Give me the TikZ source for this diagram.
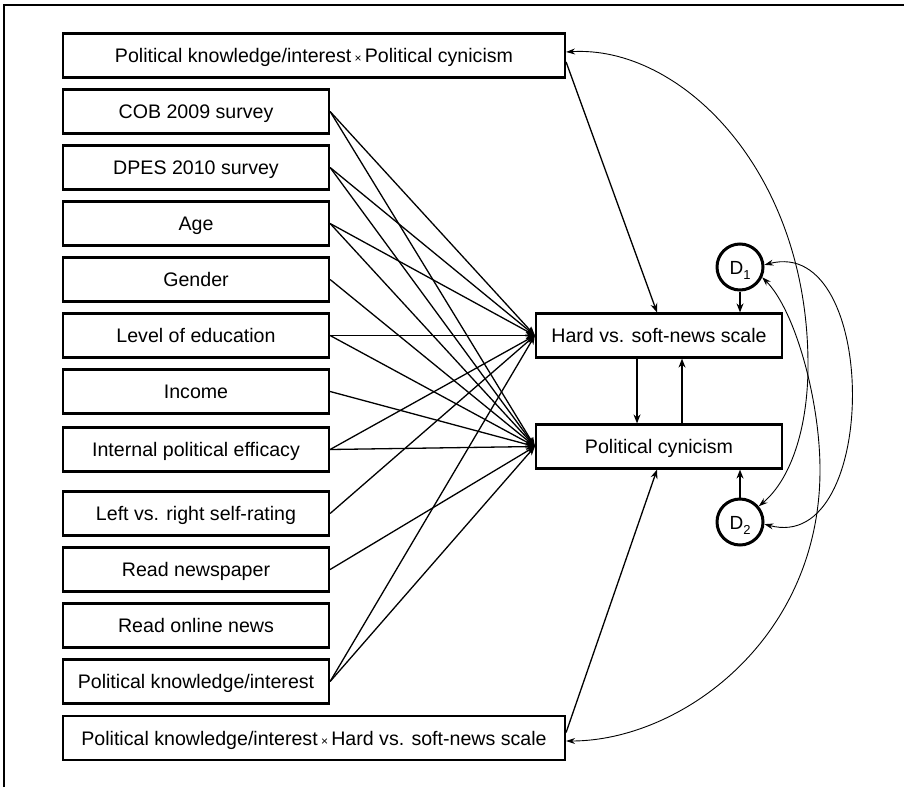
\documentclass[tikz,border=0pt]{standalone}
\usepackage{fontspec}
\setmainfont{Liberation Sans}
\usetikzlibrary{arrows.meta,calc}
\newcommand{\tms}{\,{\fontsize{12}{12}\selectfont ×}\,}
\newcommand{\dsub}[1]{D\raisebox{-5pt}{\fontsize{13}{13}\selectfont #1}}
\begin{document}
\begin{tikzpicture}[x=1pt,y=-1pt,
  box/.style={draw, line width=2.2pt, minimum height=44pt, inner sep=0pt,
    text height=16pt, text depth=2pt, font=\fontsize{19.6}{23}\selectfont},
  sbox/.style={box, minimum width=266pt},
  wbox/.style={box, minimum width=502pt},
  mbox/.style={box, minimum width=246pt},
  dcirc/.style={draw, circle, line width=3pt, minimum size=46pt, inner sep=0pt,
    text height=16pt, text depth=2pt, font=\fontsize{19}{23}\selectfont},
  arr/.style={line width=1.3pt, -{Stealth[length=9pt,width=7pt]}},
  carr/.style={line width=0.9pt, {Stealth[length=9pt,width=6pt,inset=3pt]}-{Stealth[length=9pt,width=6pt,inset=3pt]}}
]
\useasboundingbox (0,0) rectangle (904,787);
% frame
\draw[line width=1.4pt] (4,787) -- (4,5) -- (904,5);

% interaction boxes
\node[wbox] (ptop) at (314,55.5) {Political knowledge/interest\tms Political cynicism};
\node[wbox] (pbot) at (314,738) {Political knowledge/interest\tms Hard vs. soft-news scale};

% predictors
\node[sbox] (cob)    at (196,111.5) {COB 2009 survey};
\node[sbox] (dpes)   at (196,167.5) {DPES 2010 survey};
\node[sbox] (age)    at (196,223.5) {Age};
\node[sbox] (gender) at (196,279.5) {Gender};
\node[sbox] (edu)    at (196,335.5) {Level of education};
\node[sbox] (income) at (196,391.5) {Income};
\node[sbox] (eff)    at (196,449.5) {Internal political efficacy};
\node[sbox] (lr)     at (196,513.5) {Left vs. right self-rating};
\node[sbox] (news)   at (196,569.5) {Read newspaper};
\node[sbox] (online) at (196,625.5) {Read online news};
\node[sbox] (pk)     at (196,681.5) {Political knowledge/interest};

% outcomes
\node[mbox] (hard) at (659,335.5) {Hard vs. soft-news scale};
\node[mbox] (cyn)  at (659,446.5) {Political cynicism};

% disturbances
\node[dcirc] (D1) at (740,267) {\dsub{1}};
\node[dcirc] (D2) at (740,522) {\dsub{2}};

% paths to hard vs. soft-news scale
\foreach \s in {cob,dpes,age,edu,eff,lr,pk}
  \draw[arr] (\s.east) -- (hard.west);
% paths to political cynicism
\foreach \s in {cob,dpes,age,gender,edu,income,eff,news,pk}
  \draw[arr] (\s.east) -- (cyn.west);

% reciprocal paths
\draw[arr] (637,0 |- hard.south) -- (637,0 |- cyn.north);
\draw[arr] (682,0 |- cyn.north) -- (682,0 |- hard.south);

% interactions
\draw[arr] ($(ptop.north east)!0.64!(ptop.south east)$) -- (657,0 |- hard.north);
\draw[arr] ($(pbot.north east)!0.38!(pbot.south east)$) -- (657,0 |- cyn.south);

% disturbances
\draw[arr] (D1.south) -- (D1.south |- hard.north);
\draw[arr] (D2.north) -- (D2.north |- cyn.south);

% covariances
\draw[carr] ($(ptop.east)+(0,-3.5)$) .. controls (680,45) and (808,170) .. (808,365)
   .. controls (808,430) and (790,480) .. (D2.40);
\draw[carr] (D1.-25) .. controls (795,310) and (820,400) .. (820,470)
   .. controls (820,640) and (680,741) .. ($(pbot.east)+(0,3)$);
\draw[carr] (D1.5) .. controls (880,235) and (880,555) .. (D2.-5);
\end{tikzpicture}
\end{document}
